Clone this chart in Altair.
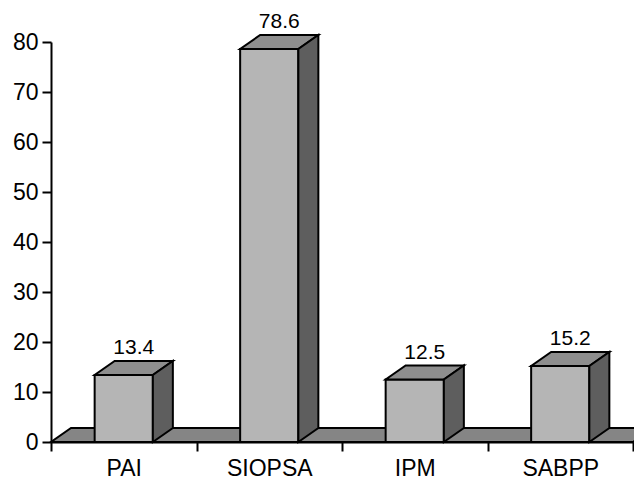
import altair as alt
import pandas as pd

# ---- data ----
categories = ["PAI", "SIOPSA", "IPM", "SABPP"]
values = [13.4, 78.6, 12.5, 15.2]
y_ticks = [0, 10, 20, 30, 40, 50, 60, 70, 80]

# ---- 3-D geometry (in data units) ----
BAR_LEFT, BAR_RIGHT = 0.3, 0.7   # front face within each category band
DX, DY = 0.1375, 2.8             # depth offset (x units, y units)
N = len(categories)

floor_rows = [
    dict(id="floor", x=0, y=0, y2=0),
    dict(id="floor", x=DX, y=0, y2=DY),
    dict(id="floor", x=N, y=0, y2=DY),
    dict(id="floor", x=N + DX, y=DY, y2=DY),
]
front_rows, top_rows, side_rows, label_rows = [], [], [], []
for i, (c, v) in enumerate(zip(categories, values)):
    a, b = i + BAR_LEFT, i + BAR_RIGHT
    front_rows += [dict(id=c, x=a, y=0, y2=v), dict(id=c, x=b, y=0, y2=v)]
    top_rows += [
        dict(id=c, x=a, y=v, y2=v),
        dict(id=c, x=a + DX, y=v, y2=v + DY),
        dict(id=c, x=b, y=v, y2=v + DY),
        dict(id=c, x=b + DX, y=v + DY, y2=v + DY),
    ]
    side_rows += [dict(id=c, x=b, y=0, y2=v), dict(id=c, x=b + DX, y=DY, y2=v + DY)]
    label_rows.append(dict(id=c, x=(a + b) / 2 + DX / 2, y=v + DY, label=f"{v:.1f}"))

FONT = "Liberation Sans"

label_expr = (
    "datum.value % 1 == 0.5 ? "
    + "[" + ",".join(f"'{c}'" for c in categories) + "][floor(datum.value)] : ''"
)
x_ticks = [k / 2 for k in range(0, 2 * N + 1)]

X = alt.X(
    "x:Q",
    scale=alt.Scale(domain=[0, N], nice=False, zero=False),
    axis=alt.Axis(
        values=x_ticks,
        labelExpr=label_expr,
        title=None,
        grid=False,
        tickSize=9,
        tickWidth=2,
        tickColor="black",
        tickOpacity={"condition": {"test": "datum.value % 1 != 0", "value": 0}, "value": 1},
        domainColor="black",
        domainWidth=2,
        labelFont=FONT,
        labelFontSize=23,
        labelColor="black",
        labelPadding=6,
        labelOverlap=False,
        labelFlush=False,
        labelBaseline="top",
    ),
)
Y = alt.Y(
    "y:Q",
    scale=alt.Scale(domain=[0, 80], nice=False),
    axis=alt.Axis(
        values=y_ticks,
        title=None,
        grid=False,
        tickSize=9,
        tickWidth=2,
        tickColor="black",
        domainColor="black",
        domainWidth=2,
        labelFont=FONT,
        labelFontSize=23,
        labelColor="black",
        labelPadding=4,
    ),
)


def face(rows, fill):
    return alt.Chart(pd.DataFrame(rows)).mark_area(
        fill=fill, stroke="black", strokeWidth=2, strokeJoin="miter", interpolate="linear"
    ).encode(x=X, y=Y, y2="y2:Q", detail="id:N")


floor = face(floor_rows, "#858585")
front = face(front_rows, "#b5b5b5")
top = face(top_rows, "#8e8e8e")
side = face(side_rows, "#5e5e5e")

labels = alt.Chart(pd.DataFrame(label_rows)).mark_text(
    font=FONT, fontSize=21, color="black", baseline="alphabetic", dy=-7
).encode(x=X, y=Y, text="label:N")

chart = (
    alt.layer(floor, front, top, side, labels)
    .properties(
        width=582,
        height=400,
        autosize=alt.AutoSizeParams(type="none"),
        padding={"left": 43, "top": 34, "right": 1, "bottom": 37},
    )
    .configure_view(stroke=None)
)

chart.save("out.html", embed_options={"renderer": "svg", "actions": False})
